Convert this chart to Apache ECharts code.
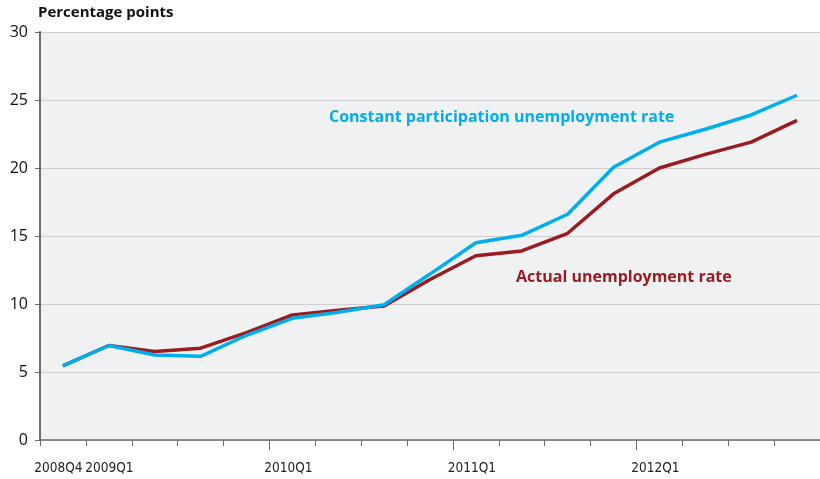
<!DOCTYPE html>
<html>
<head>
<meta charset="utf-8">
<style>
  html, body { margin: 0; padding: 0; background: #ffffff; }
  #chart { width: 820px; height: 479px; }
</style>
<script src="https://cdn.jsdelivr.net/npm/echarts@6/dist/echarts.min.js"></script>
</head>
<body>
<div id="chart"></div>
<script>
// Quarterly unemployment rates, 2008Q4 – 2012Q4
const quarters = [
  '2008Q4',
  '2009Q1', '2009Q2', '2009Q3', '2009Q4',
  '2010Q1', '2010Q2', '2010Q3', '2010Q4',
  '2011Q1', '2011Q2', '2011Q3', '2011Q4',
  '2012Q1', '2012Q2', '2012Q3', '2012Q4'
];
const actualRate = [5.45, 6.95, 6.5, 6.75, 7.9, 9.2, 9.55, 9.85, 11.8, 13.55, 13.9, 15.2, 18.1, 20.0, 21.0, 21.9, 23.5];
const constantParticipationRate = [5.45, 6.95, 6.25, 6.15, 7.7, 8.95, 9.4, 9.95, 12.2, 14.5, 15.05, 16.6, 20.05, 21.9, 22.85, 23.9, 25.35];
// Quarter labels; the two neighbouring ones at the start each get their own axis
// so neither is dropped as an overlap.
const startQuarterLabel = ['2008Q4'];
const secondQuarterLabel = ['2009Q1'];
const yearQuarterLabels = ['2010Q1', '2011Q1', '2012Q1'];
const yearStarts = ['2010Q1', '2011Q1', '2012Q1'];

const BLUE = '#00aeef';
const RED = '#9b1c20';
const FONT = '"Open Sans", "Noto Sans", sans-serif';
const NARROW = '"Liberation Sans Narrow", "DejaVu Sans Condensed", "Noto Sans", sans-serif';

const quarterLabel = {
  hideOverlap: false,
  margin: 21,
  fontFamily: NARROW,
  fontSize: 13.5,
  color: '#222222'
};

const chart = echarts.init(document.getElementById('chart'), null, { renderer: 'canvas' });

chart.setOption({
  animation: false,
  backgroundColor: '#ffffff',
  grid: {
    left: 40, right: 0, top: 32, bottom: 39,
    show: true, backgroundColor: '#f0f1f3', borderWidth: 0
  },
  xAxis: [
    {
      type: 'category',
      data: quarters,
      boundaryGap: true,
      axisLine: { show: true, lineStyle: { color: '#6d6d6d', width: 1.5 } },
      axisTick: { show: true, interval: 0, length: 6, lineStyle: { color: '#6d6d6d', width: 1 } },
      axisLabel: Object.assign({}, quarterLabel, {
        interval: (i, v) => yearQuarterLabels.includes(v),
        padding: [0, 8, 0, 0]
      }),
      splitLine: { show: false }
    },
    {
      type: 'category',
      data: quarters,
      position: 'bottom',
      boundaryGap: true,
      axisLine: { show: false },
      axisTick: {
        show: true, length: 10,
        interval: (i, v) => yearStarts.includes(v),
        lineStyle: { color: '#6d6d6d', width: 1 }
      },
      axisLabel: Object.assign({}, quarterLabel, {
        interval: (i, v) => secondQuarterLabel.includes(v),
        padding: [0, 0, 0, 1]
      }),
      splitLine: { show: false }
    },
    {
      type: 'category',
      data: quarters,
      position: 'bottom',
      boundaryGap: true,
      axisLine: { show: false },
      axisTick: { show: false },
      axisLabel: Object.assign({}, quarterLabel, {
        interval: (i, v) => startQuarterLabel.includes(v),
        showMinLabel: true,
        padding: [0, 9, 0, 0]
      }),
      splitLine: { show: false }
    }
  ],
  yAxis: {
    type: 'value',
    min: 0, max: 30, interval: 5,
    axisLine: { show: true, lineStyle: { color: '#6d6d6d', width: 2 } },
    axisTick: { show: true, length: 5, lineStyle: { color: '#6d6d6d' } },
    axisLabel: { fontFamily: FONT, fontSize: 16, color: '#111111', margin: 12 },
    splitLine: { show: true, lineStyle: { color: '#cfcfcf', width: 1 } }
  },
  series: [
    {
      name: 'Actual unemployment rate',
      type: 'line',
      data: actualRate,
      symbol: 'none',
      lineStyle: { color: RED, width: 3.5 },
      z: 2
    },
    {
      name: 'Constant participation unemployment rate',
      type: 'line',
      data: constantParticipationRate,
      symbol: 'none',
      lineStyle: { color: BLUE, width: 3.5 },
      z: 3
    }
  ],
  graphic: [
    {
      type: 'text', left: 38, top: 5,
      style: { text: 'Percentage points', fontFamily: FONT, fontWeight: 'bold', fontSize: 15, fill: '#111111' }
    },
    {
      type: 'text', left: 329, top: 109,
      style: { text: 'Constant participation unemployment rate', fontFamily: FONT, fontWeight: 'bold', fontSize: 16, fill: BLUE }
    },
    {
      type: 'text', left: 516, top: 269,
      style: { text: 'Actual unemployment rate', fontFamily: FONT, fontWeight: 'bold', fontSize: 16, fill: RED }
    }
  ]
});
</script>
</body>
</html>
